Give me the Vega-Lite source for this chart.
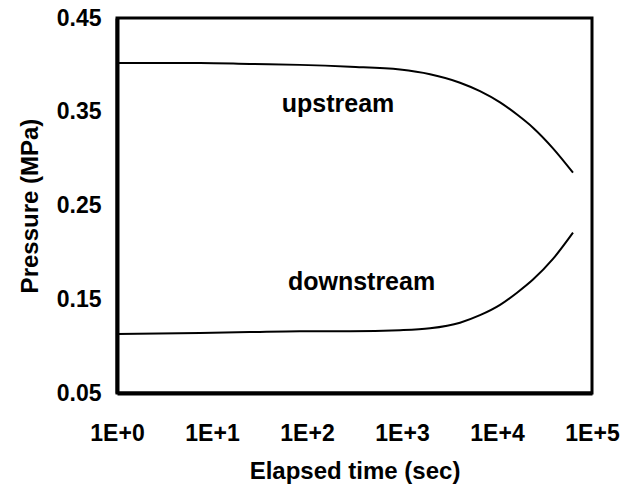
{
  "$schema": "https://vega.github.io/schema/vega-lite/v6.json",
  "width": 475,
  "height": 375,
  "autosize": {"type": "none"},
  "padding": {"left": 117, "top": 18, "right": 34, "bottom": 103},
  "background": "white",
  "config": {
    "view": {"stroke": "black", "strokeWidth": 3},
    "font": "Liberation Sans"
  },
  "datasets": {
    "curves": [
      {"t": 1, "p": 0.402, "series": "upstream"},
      {"t": 7.5, "p": 0.402, "series": "upstream"},
      {"t": 25, "p": 0.401, "series": "upstream"},
      {"t": 84, "p": 0.400, "series": "upstream"},
      {"t": 284, "p": 0.398, "series": "upstream"},
      {"t": 953, "p": 0.395, "series": "upstream"},
      {"t": 1972, "p": 0.390, "series": "upstream"},
      {"t": 4080, "p": 0.381, "series": "upstream"},
      {"t": 6620, "p": 0.372, "series": "upstream"},
      {"t": 10770, "p": 0.360, "series": "upstream"},
      {"t": 16250, "p": 0.347, "series": "upstream"},
      {"t": 23930, "p": 0.333, "series": "upstream"},
      {"t": 38840, "p": 0.311, "series": "upstream"},
      {"t": 63100, "p": 0.285, "series": "upstream"},
      {"t": 1, "p": 0.113, "series": "downstream"},
      {"t": 7.5, "p": 0.114, "series": "downstream"},
      {"t": 25, "p": 0.115, "series": "downstream"},
      {"t": 84, "p": 0.116, "series": "downstream"},
      {"t": 284, "p": 0.116, "series": "downstream"},
      {"t": 953, "p": 0.117, "series": "downstream"},
      {"t": 1972, "p": 0.119, "series": "downstream"},
      {"t": 4080, "p": 0.125, "series": "downstream"},
      {"t": 6620, "p": 0.133, "series": "downstream"},
      {"t": 10770, "p": 0.144, "series": "downstream"},
      {"t": 16250, "p": 0.157, "series": "downstream"},
      {"t": 23930, "p": 0.171, "series": "downstream"},
      {"t": 38840, "p": 0.193, "series": "downstream"},
      {"t": 63100, "p": 0.221, "series": "downstream"}
    ],
    "labels": [
      {"t": 212, "p": 0.358, "label": "upstream"},
      {"t": 375, "p": 0.168, "label": "downstream"}
    ]
  },
  "layer": [
    {
      "data": {"name": "curves"},
      "mark": {"type": "line", "color": "black", "strokeWidth": 2, "interpolate": "monotone"},
      "encoding": {
        "x": {
          "field": "t", "type": "quantitative",
          "scale": {"type": "log", "domain": [1, 100000], "nice": false},
          "axis": {
            "title": "Elapsed time (sec)",
            "values": [1, 10, 100, 1000, 10000, 100000],
            "labelExpr": "'1E+' + round(log(datum.value)/LN10)",
            "grid": false, "ticks": false,
            "domainColor": "black", "domainWidth": 4,
            "labelFont": "Liberation Sans", "labelFontWeight": "bold", "labelFontSize": 23, "labelColor": "black",
            "labelPadding": 29, "labelFlush": false, "labelOverlap": false,
            "titleFont": "Liberation Sans", "titleFontWeight": "bold", "titleFontSize": 24, "titleColor": "black",
            "titlePadding": 14
          }
        },
        "y": {
          "field": "p", "type": "quantitative",
          "scale": {"domain": [0.05, 0.45], "nice": false, "zero": false},
          "axis": {
            "title": "Pressure (MPa)",
            "values": [0.05, 0.15, 0.25, 0.35, 0.45],
            "format": ".2f",
            "grid": false, "ticks": false,
            "domainColor": "black", "domainWidth": 4,
            "labelFont": "Liberation Sans", "labelFontWeight": "bold", "labelFontSize": 23, "labelColor": "black",
            "labelPadding": 16, "labelFlush": false, "labelOverlap": false,
            "titleFont": "Liberation Sans", "titleFontWeight": "bold", "titleFontSize": 24, "titleColor": "black",
            "titlePadding": 14
          }
        },
        "detail": {"field": "series"}
      }
    },
    {
      "data": {"name": "labels"},
      "mark": {"type": "text", "font": "Liberation Sans", "fontSize": 25, "fontWeight": "bold", "color": "black", "align": "center", "baseline": "middle"},
      "encoding": {
        "x": {"field": "t", "type": "quantitative"},
        "y": {"field": "p", "type": "quantitative"},
        "text": {"field": "label"}
      }
    }
  ]
}
